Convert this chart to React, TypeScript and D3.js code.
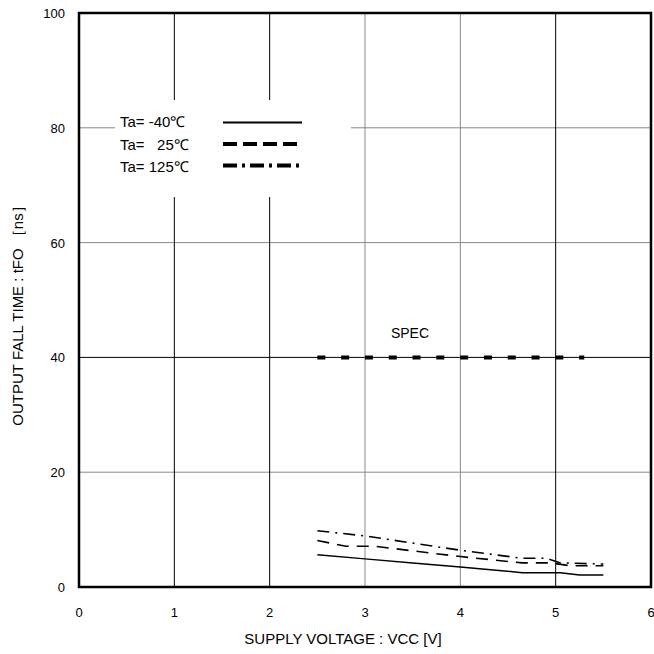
import React from "react";
import * as d3 from "d3";

const xTicks = [0, 1, 2, 3, 4, 5, 6];
const yTicks = [0, 20, 40, 60, 80, 100];
const seriesLabels = ["Ta= -40℃", "Ta=   25℃", "Ta= 125℃"];
const tM40: [number, number][] = [[2.5, 5.6], [3, 4.9], [3.5, 4.2], [4, 3.5], [4.65, 2.5], [5.05, 2.5], [5.25, 2.1], [5.5, 2.1]];
const t25: [number, number][] = [[2.5, 8.1], [2.8, 7.1], [3.1, 7.1], [4, 5.3], [4.65, 4.2], [4.95, 4.2], [5.15, 3.7], [5.5, 3.7]];
const t125: [number, number][] = [[2.5, 9.8], [3, 8.9], [4, 6.4], [4.65, 5.0], [4.9, 5.0], [5.05, 4.2], [5.5, 4.0]];
const specX = [2.5, 5.3];
const specY = 40;

const W = 654, H = 654;
const L = 79, R = 651, T = 13, B = 587;
const font = "Liberation Sans, Arial, sans-serif";

export default function App() {
  const x = d3.scaleLinear().domain([0, 6]).range([L, R]);
  const y = d3.scaleLinear().domain([0, 100]).range([B, T]);
  const line = d3.line<[number, number]>().x(d => x(d[0])).y(d => y(d[1]));
  const vColor = (v: number) => (v === 3 || v === 4 ? "#888" : "#000");
  const styles = [
    { data: tM40, w: 1.5, dash: "none", lw: 1.8, ldash: "none" },
    { data: t25, w: 1.6, dash: "12,8", lw: 4, ldash: "14,6" },
    { data: t125, w: 1.6, dash: "12,6,2,6", lw: 4, ldash: "14,5,3,5" },
  ];
  return (
    <svg width={W} height={H} style={{ position: "absolute", left: 0, top: 0, background: "#fff" }} fontFamily={font}>
      <rect x={0} y={0} width={W} height={H} fill="#fff" />
      {yTicks.filter(v => v > 0 && v < 100).map(v => (
        <line key={"h" + v} x1={L} x2={R} y1={y(v)} y2={y(v)} stroke={v === 40 ? "#000" : "#888"} strokeWidth={1} />
      ))}
      {xTicks.filter(v => v > 0 && v < 6).map(v => (
        <line key={"v" + v} x1={x(v)} x2={x(v)} y1={T} y2={B} stroke={vColor(v)} strokeWidth={1} />
      ))}
      <rect x={115} y={100} width={236} height={97} fill="#fff" />
      <rect x={L} y={T} width={R - L} height={B - T} fill="none" stroke="#000" strokeWidth={2.5} />
      {styles.map((s, i) => (
        <path key={"s" + i} d={line(s.data) || ""} fill="none" stroke="#000" strokeWidth={s.w} strokeDasharray={s.dash} />
      ))}
      <line x1={x(specX[0])} x2={x(specX[1])} y1={y(specY)} y2={y(specY)} stroke="#000" strokeWidth={4} strokeDasharray="8,15.8" />
      <text x={410} y={338} fontSize={14} textAnchor="middle">SPEC</text>
      {seriesLabels.map((lab, i) => (
        <g key={"l" + i}>
          <text x={120} y={127 + i * 22.5} fontSize={15} style={{ whiteSpace: "pre" }} xmlSpace="preserve">{lab}</text>
          <line x1={223} x2={302} y1={122.5 + i * 21.5} y2={122.5 + i * 21.5} stroke="#000" strokeWidth={styles[i].lw} strokeDasharray={styles[i].ldash} />
        </g>
      ))}
      {yTicks.map(v => (
        <text key={"yt" + v} x={65} y={y(v) + 5} fontSize={13} textAnchor="end">{v}</text>
      ))}
      {xTicks.map(v => (
        <text key={"xt" + v} x={x(v)} y={617} fontSize={13} textAnchor="middle">{v}</text>
      ))}
      <text x={343} y={644} fontSize={15} textAnchor="middle" style={{ whiteSpace: "pre" }} xmlSpace="preserve">SUPPLY VOLTAGE : VCC [V]</text>
      <text transform={`translate(23,${312}) rotate(-90)`} fontSize={15} textAnchor="middle" style={{ whiteSpace: "pre" }} xmlSpace="preserve">OUTPUT FALL TIME : tFO ［ns］</text>
    </svg>
  );
}
